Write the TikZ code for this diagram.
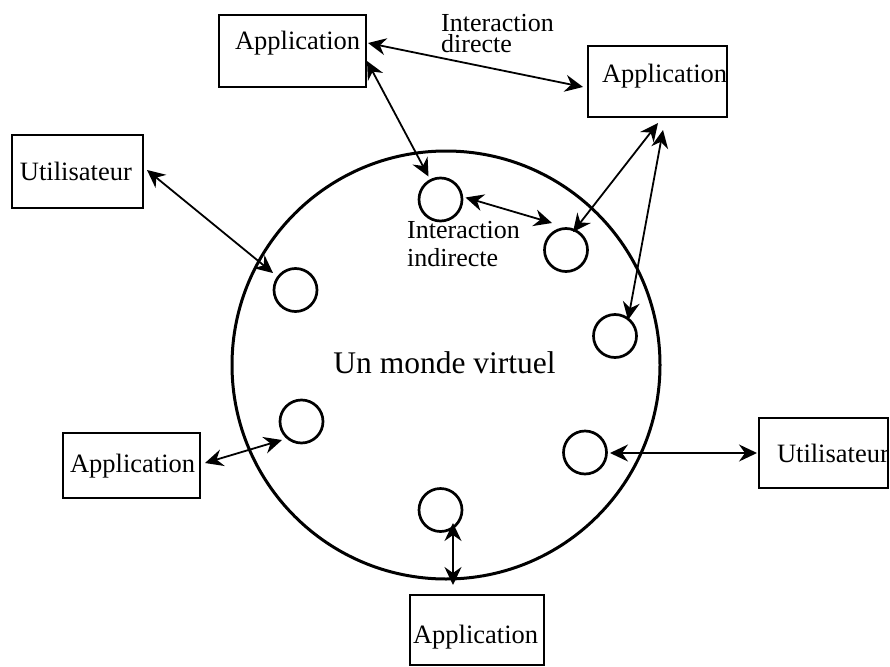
\documentclass[tikz,border=0pt]{standalone}
\usepackage{fontspec}
\setmainfont{Liberation Serif}
\usetikzlibrary{arrows.meta}
% box contents: fixed width, left padding, text
\newcommand{\padtext}[3]{\makebox[#1pt][l]{\hspace*{#2pt}#3}}

\begin{document}
\begin{tikzpicture}[x=1pt,y=-1pt,
  box/.style={draw, line width=2.4pt, inner sep=0pt, outer sep=0pt,
    font=\fontsize{26.5}{30}\selectfont},
  agent/.style={draw, circle, line width=2.7pt, minimum size=43pt, inner sep=0pt},
  world/.style={draw, circle, line width=3pt, minimum size=428pt, inner sep=0pt},
  link/.style={line width=1.8pt, {Stealth[length=18pt,width=17pt,inset=6pt]}-{Stealth[length=18pt,width=17pt,inset=6pt]}},
  note/.style={font=\fontsize{26}{#1}\selectfont, align=left, inner sep=0pt, anchor=base west},
]
\useasboundingbox (0,0) rectangle (890,666);

% the virtual world
\node[world] (world) at (446,365) {};
\node[font=\fontsize{31.5}{36}\selectfont, anchor=base, inner sep=0pt] (title) at (444.5,373) {Un monde virtuel};

% entities inside the world
\node[agent] (c1) at (440.5,199.5) {};
\node[agent] (c2) at (566,250) {};
\node[agent] (c3) at (295.5,290) {};
\node[agent] (c4) at (615,336) {};
\node[agent] (c5) at (301.5,421.5) {};
\node[agent] (c6) at (585,452.5) {};
\node[agent] (c7) at (440.5,510) {};

% applications and users outside
\node[box, text height=35pt, text depth=37pt] (a1) at (292.5,51) {\padtext{147}{16}{Application}};
\node[box, text height=37pt, text depth=34pt] (a2) at (657.5,81.5) {\padtext{139}{14}{Application}};
\node[box, text height=45pt, text depth=28pt] (u1) at (77.5,171.5) {\padtext{131}{8}{Utilisateur}};
\node[box, text height=39pt, text depth=26pt] (a3) at (131.5,465.5) {\padtext{137}{7}{Application}};
\node[box, text height=44pt, text depth=26pt] (u2) at (823.5,453) {\padtext{129}{18}{Utilisateur}};
\node[box, text height=48pt, text depth=22pt] (a4) at (477,630) {\padtext{134}{3}{Application}};

% labels (placed by the baseline of their last line)
\node[note=21] (direct) at (441,53) {Interaction\\directe};
\node[note=28] (indirect) at (407,266) {Interaction\\indirecte};

% interactions
\draw[link] ([shift={(75.5,-8)}]a1.center) -- ([shift={(-74.5,5.5)}]a2.center);
\draw[link] ([shift={(74.5,10)}]a1.center) -- ([shift={(-12,-23)}]c1.center);
\draw[link] ([shift={(25,-2)}]c1.center) -- ([shift={(-14,-27)}]c2.center);
\draw[link] ([shift={(0.5,41.5)}]a2.center) -- ([shift={(7,-18)}]c2.center);
\draw[link] ([shift={(5.5,48.5)}]a2.center) -- ([shift={(13,-16)}]c4.center);
\draw[link] ([shift={(69.5,-1.5)}]u1.center) -- ([shift={(-22.5,-17)}]c3.center);
\draw[link] ([shift={(73.5,-2.5)}]a3.center) -- ([shift={(-19.5,18.5)}]c5.center);
\draw[link] ([shift={(25,0.5)}]c6.center) -- ([shift={(-66.5,0)}]u2.center);
\draw[link] ([shift={(12.5,13)}]c7.center) -- ([shift={(-24,-45)}]a4.center);
\end{tikzpicture}
\end{document}
